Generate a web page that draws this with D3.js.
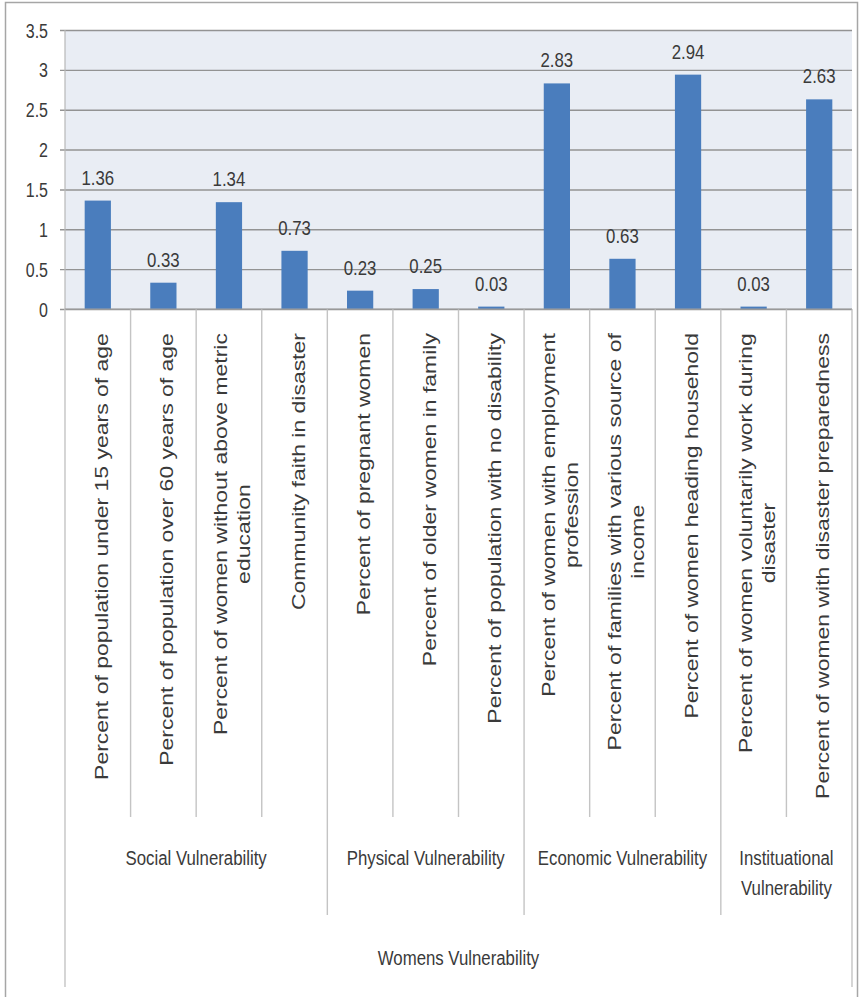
<!DOCTYPE html>
<html>
<head>
<meta charset="utf-8">
<script src="https://cdn.jsdelivr.net/npm/d3@7"></script>
<style>
  html, body { margin: 0; padding: 0; background: #ffffff; }
  svg { display: block; }
  text { font-family: "Liberation Sans", Arial, sans-serif; fill: #3a3a3a; }
</style>
</head>
<body>
<svg id="chart" width="859" height="997"></svg>
<script>
// ---- data ----
const categories = [
  "Percent of population under 15 years of age",
  "Percent of population over 60 years of age",
  "Percent of women without above metric\neducation",
  "Community faith in disaster",
  "Percent of pregnant women",
  "Percent of older women in family",
  "Percent of population with no disability",
  "Percent of women with employment\nprofession",
  "Percent of families with various source of\nincome",
  "Percent of women heading household",
  "Percent of women voluntarily work during\ndisaster",
  "Percent of women with disaster preparedness"
];
const values = [1.36, 0.33, 1.34, 0.73, 0.23, 0.25, 0.03, 2.83, 0.63, 2.94, 0.03, 2.63];
const valueLabels = ["1.36", "0.33", "1.34", "0.73", "0.23", "0.25", "0.03", "2.83", "0.63", "2.94", "0.03", "2.63"];
const groups = ["Social Vulnerability", "Physical Vulnerability", "Economic Vulnerability", "Instituational\nVulnerability"];
const groupSizes = [4, 3, 3, 2];
const topGroup = "Womens Vulnerability";
const yTicks = [0, 0.5, 1, 1.5, 2, 2.5, 3, 3.5];
const yTickLabels = ["0", "0.5", "1", "1.5", "2", "2.5", "3", "3.5"];

// ---- layout ----
const plotL = 65, plotR = 852, plotT = 30, plotB = 309;
const labelTop = 333, labelLen = 447;
const sx = 0.8; // horizontal squeeze of text

const svg = d3.select("#chart");

// outer frame
svg.append("rect").attr("x", 5.5).attr("y", 2.5).attr("width", 852).attr("height", 996)
  .attr("fill", "#ffffff").attr("stroke", "#a6a6a6").attr("stroke-width", 1.5);

const xCat = d3.scaleBand().domain(d3.range(categories.length)).range([plotL, plotR]).padding(0);
const xBar = d3.scaleBand().domain(d3.range(categories.length)).range([plotL, plotR])
  .paddingInner(0.6).paddingOuter(0.3);
const y = d3.scaleLinear().domain([0, 3.5]).range([plotB, plotT]);

// plot background
svg.append("rect").attr("x", plotL).attr("y", plotT).attr("width", plotR - plotL).attr("height", plotB - plotT)
  .attr("fill", "#e9edf4");

// y axis with gridlines
const yAxis = svg.append("g").attr("transform", `translate(${plotL},0)`)
  .call(d3.axisLeft(y).tickValues(yTicks).tickSize(-(plotR - plotL)).tickPadding(0)
    .tickFormat((d, i) => yTickLabels[i]));
yAxis.select(".domain").remove();
yAxis.selectAll(".tick line").attr("stroke", "#939393").attr("stroke-width", 1.4).attr("x1", -5);
yAxis.selectAll(".tick text")
  .attr("x", -17 / sx).attr("dy", "0.35em")
  .attr("transform", `scale(${sx},1)`)
  .attr("text-anchor", "end")
  .style("font-size", "20px").style("fill", "#3a3a3a")
  .style("font-family", '"Liberation Sans", Arial, sans-serif');

// vertical axis line inside plot
svg.append("line").attr("x1", plotL).attr("x2", plotL).attr("y1", plotT).attr("y2", plotB)
  .attr("stroke", "#b8b8b8").attr("stroke-width", 1.2);

// bars
svg.append("g").selectAll("rect").data(values).join("rect")
  .attr("x", (d, i) => xBar(i))
  .attr("width", xBar.bandwidth())
  .attr("y", d => y(d))
  .attr("height", d => y(0) - y(d))
  .attr("fill", "#4a7dbd");

// data labels
svg.append("g").selectAll("text").data(values).join("text")
  .attr("x", (d, i) => (xBar(i) + xBar.bandwidth() / 2) / sx)
  .attr("y", d => y(d) - 16)
  .attr("transform", `scale(${sx},1)`)
  .attr("text-anchor", "middle")
  .style("font-size", "21px")
  .text((d, i) => valueLabels[i]);

// category separator lines
const groupEnds = [];
{ let acc = 0; groupSizes.forEach(s => { acc += s; groupEnds.push(acc); }); }
const bounds = d3.range(categories.length + 1);
svg.append("g").selectAll("line").data(bounds).join("line")
  .attr("x1", i => i < categories.length ? xCat(i) : plotR)
  .attr("x2", i => i < categories.length ? xCat(i) : plotR)
  .attr("y1", plotB)
  .attr("y2", i => (i === 0 || i === categories.length) ? 987 : (groupEnds.includes(i) ? 915 : 817))
  .attr("stroke", "#c4c4c4").attr("stroke-width", 1.4);

// x axis line
svg.append("line").attr("x1", plotL).attr("x2", plotR).attr("y1", plotB).attr("y2", plotB)
  .attr("stroke", "#a0a0a0").attr("stroke-width", 1.2);

// category labels (rotated)
const catG = svg.append("g");
const cells = catG.selectAll("g").data(categories).join("g");
cells.each(function (d, i) {
  const lines = d.split("\n");
  const g = d3.select(this);
  lines.forEach((ln, k) => {
    g.append("text").attr("class", "cl").attr("data-k", k).attr("data-n", lines.length)
      .style("font-size", "18px").text(ln);
  });
});
// measure reference length to get stretch
let refLen = 0;
cells.filter((d, i) => i === 0).select("text").each(function () { refLen = this.getComputedTextLength(); });
const stretch = labelLen / refLen;
cells.each(function (d, i) {
  const g = d3.select(this);
  const cx = xCat(i) + xCat.bandwidth() / 2;
  let maxLen = 0;
  g.selectAll("text").each(function () { maxLen = Math.max(maxLen, this.getComputedTextLength()); });
  g.attr("transform", `translate(${cx},${labelTop}) rotate(-90) scale(${stretch},1)`);
  g.selectAll("text").each(function () {
    const t = d3.select(this);
    const k = +t.attr("data-k"), n = +t.attr("data-n");
    const off = n === 1 ? 10 : (k === 0 ? -1.5 : 21.5);
    t.attr("x", -maxLen / 2).attr("y", off).attr("text-anchor", "middle");
  });
});

// group labels
const groupStarts = groupEnds.map((e, i) => e - groupSizes[i]);
groups.forEach((gname, gi) => {
  const x0 = xCat(groupStarts[gi]);
  const x1 = groupEnds[gi] < categories.length ? xCat(groupEnds[gi]) : plotR;
  const cx = (x0 + x1) / 2;
  const lines = gname.split("\n");
  lines.forEach((ln, k) => {
    svg.append("text")
      .attr("x", cx / sx).attr("y", 858 + k * 30).attr("dy", "0.35em")
      .attr("transform", `scale(${sx},1)`)
      .attr("text-anchor", "middle").style("font-size", "21px").text(ln);
  });
});

// top-level group label
svg.append("text")
  .attr("x", ((plotL + plotR) / 2) / sx).attr("y", 958).attr("dy", "0.35em")
  .attr("transform", `scale(${sx},1)`)
  .attr("text-anchor", "middle").style("font-size", "21px").text(topGroup);
</script>
</body>
</html>
